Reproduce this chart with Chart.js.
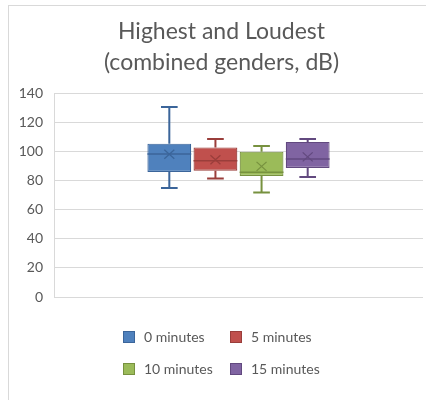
<!DOCTYPE html>
<html>
<head>
<meta charset="utf-8">
<script src="https://cdn.jsdelivr.net/npm/chart.js@4.4.1/dist/chart.umd.min.js"></script>
<style>
  html, body { margin: 0; padding: 0; background: #fff; }
  #wrap { position: relative; width: 426px; height: 400px; }
</style>
</head>
<body>
<div id="wrap"><canvas id="boxChart" width="426" height="400"></canvas></div>
<script>
// box plot values (dB)
const groups = ["0 minutes", "5 minutes", "10 minutes", "15 minutes"];
const minVals = [74.9, 81.3, 71.8, 82.4];
const q1Vals = [85.9, 86.7, 83.1, 88.6];
const medianVals = [98.2, 93.6, 85.6, 94.8];
const q3Vals = [105.3, 102.7, 99.8, 106.5];
const maxVals = [130.5, 108.5, 103.7, 108.5];
const meanVals = [98.0, 94.3, 89.7, 96.2];
const yTickMin = 0;
const yTickMax = 140;
const yTickStep = 20;

const fills = ["#4F81BD", "#C0504D", "#9BBB59", "#8064A2"];
const lines = ["#3B659A", "#9A3E3B", "#77913F", "#62497F"];
const textColor = "#595959";
const gridColor = "#D9D9D9";
const fontFamily = "Lato, 'Open Sans', sans-serif";

// boxes are floating bars from q1 to q3
const datasets = groups.map((name, i) => ({
  label: name,
  data: [[q1Vals[i], q3Vals[i]]],
  backgroundColor: fills[i],
  borderColor: lines[i],
  borderWidth: 1.2,
  borderSkipped: false,
  categoryPercentage: 0.5,
  barPercentage: 0.95,
}));

// outer chart frame
const framePlugin = {
  id: "frame",
  beforeDraw(chart) {
    const ctx = chart.ctx;
    ctx.save();
    ctx.strokeStyle = gridColor;
    ctx.lineWidth = 1;
    ctx.strokeRect(8.5, 5.5, 600, 600);
    ctx.restore();
  },
};

// whiskers, median line and mean marker
const whiskerPlugin = {
  id: "whiskers",
  afterDatasetsDraw(chart) {
    const ctx = chart.ctx;
    const y = chart.scales.y;
    chart.data.datasets.forEach((ds, i) => {
      const bar = chart.getDatasetMeta(i).data[0];
      if (!bar) return;
      const x = bar.x;
      const half = bar.width / 2;
      const cap = bar.width * 0.19;
      ctx.save();
      ctx.strokeStyle = lines[i];
      ctx.lineWidth = 2;
      ctx.beginPath();
      ctx.moveTo(x, y.getPixelForValue(q3Vals[i]));
      ctx.lineTo(x, y.getPixelForValue(maxVals[i]));
      ctx.moveTo(x, y.getPixelForValue(q1Vals[i]));
      ctx.lineTo(x, y.getPixelForValue(minVals[i]));
      ctx.moveTo(x - cap, y.getPixelForValue(maxVals[i]));
      ctx.lineTo(x + cap, y.getPixelForValue(maxVals[i]));
      ctx.moveTo(x - cap, y.getPixelForValue(minVals[i]));
      ctx.lineTo(x + cap, y.getPixelForValue(minVals[i]));
      ctx.stroke();

      ctx.lineWidth = 1.5;
      ctx.beginPath();
      const my = y.getPixelForValue(medianVals[i]);
      ctx.moveTo(x - half, my);
      ctx.lineTo(x + half, my);
      ctx.stroke();

      const ay = y.getPixelForValue(meanVals[i]);
      ctx.lineWidth = 1.3;
      ctx.beginPath();
      ctx.moveTo(x - 5, ay - 4.5);
      ctx.lineTo(x + 5, ay + 4.5);
      ctx.moveTo(x + 5, ay - 4.5);
      ctx.lineTo(x - 5, ay + 4.5);
      ctx.stroke();
      ctx.restore();
    });
  },
};

// legend laid out as a 2 x 2 grid under the plot
const gridLegendPlugin = {
  id: "gridLegend",
  afterDraw(chart) {
    const ctx = chart.ctx;
    const colX = [123, 230];
    const rowY = [337, 369];
    ctx.save();
    ctx.font = "14px " + fontFamily;
    ctx.textBaseline = "middle";
    chart.data.datasets.forEach((ds, i) => {
      const cx = colX[i % 2];
      const cy = rowY[Math.floor(i / 2)];
      ctx.fillStyle = fills[i];
      ctx.fillRect(cx, cy - 6, 12, 12);
      ctx.strokeStyle = lines[i];
      ctx.lineWidth = 1;
      ctx.strokeRect(cx + 0.5, cy - 5.5, 11, 11);
      ctx.fillStyle = textColor;
      ctx.fillText(ds.label, cx + 21, cy);
    });
    ctx.restore();
  },
};

const ctx = document.getElementById("boxChart").getContext("2d");
new Chart(ctx, {
  type: "bar",
  data: { labels: [""], datasets },
  options: {
    responsive: false,
    animation: false,
    layout: { padding: { left: 20, right: 3, top: 0, bottom: 103 } },
    plugins: {
      legend: { display: false },
      tooltip: { enabled: false },
      title: {
        display: true,
        text: ["Highest and Loudest", "(combined genders, dB)"],
        color: textColor,
        font: { family: fontFamily, size: 23, weight: "normal", lineHeight: 1.35 },
        padding: { top: 16, bottom: 15 },
      },
    },
    scales: {
      x: { display: false },
      y: {
        min: yTickMin,
        max: yTickMax,
        afterFit(scale) {
          scale.width = 34;
        },
        ticks: {
          stepSize: yTickStep,
          color: textColor,
          padding: 11,
          font: { family: fontFamily, size: 14 },
        },
        grid: { color: gridColor, drawTicks: false },
        border: { display: true, color: gridColor },
      },
    },
  },
  plugins: [framePlugin, whiskerPlugin, gridLegendPlugin],
});
</script>
</body>
</html>
